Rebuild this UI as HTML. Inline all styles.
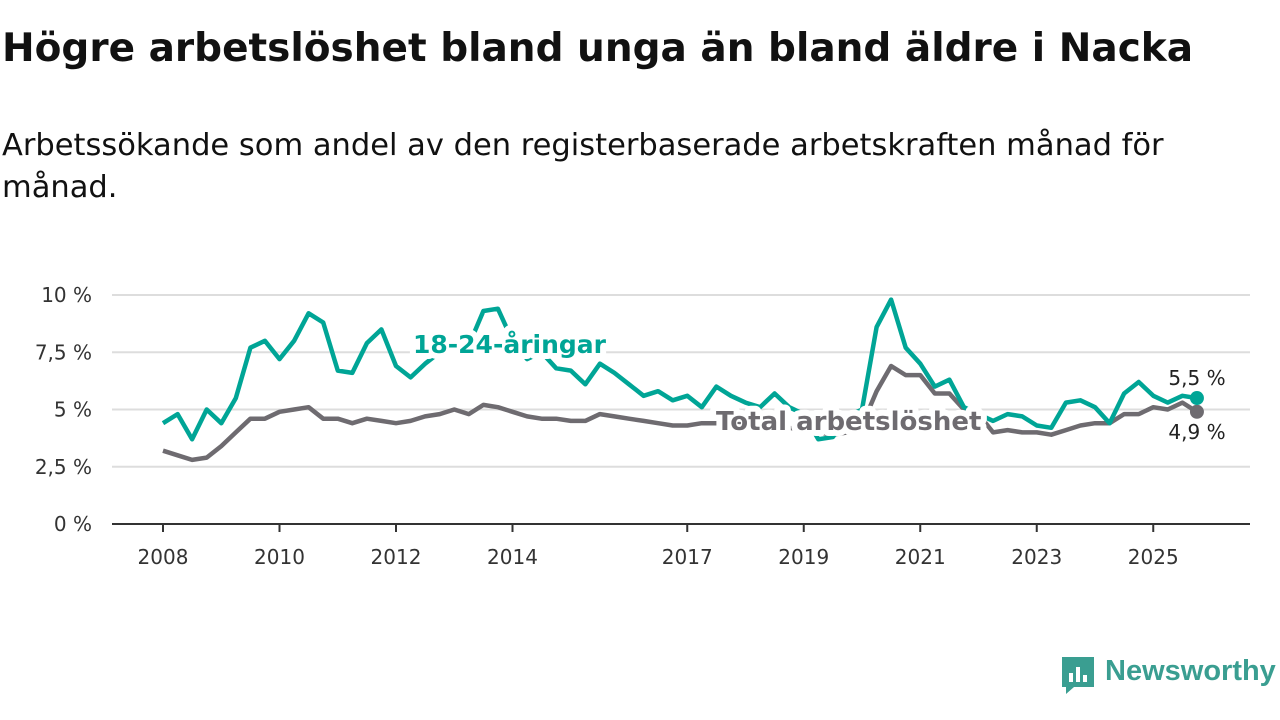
<!DOCTYPE html>
<html><head><meta charset="utf-8"><style>
body{margin:0;width:1280px;height:720px;background:#fff;overflow:hidden;font-family:"DejaVu Sans","Liberation Sans",sans-serif;color:#111}
h1{position:absolute;left:2px;top:26px;margin:0;font-size:39px;font-weight:bold;white-space:nowrap}
p{position:absolute;left:2px;top:125px;margin:0;font-size:30.5px;line-height:42px;width:1190px}
svg{position:absolute;left:0;top:0}
</style></head><body>
<h1>Högre arbetslöshet bland unga än bland äldre i Nacka</h1>
<p>Arbetssökande som andel av den registerbaserade arbetskraften månad för månad.</p>
<svg id="c" width="1280" height="720"></svg>
<div style="position:absolute;left:1060px;top:655px;width:220px;height:42px">
<svg width="36" height="40" style="position:absolute;left:0;top:0"><path d="M2 2h32v30H14l-8 7v-7H2z" fill="#3a9e91"/><rect x="9" y="18" width="4" height="9" fill="#fff"/><rect x="16" y="12" width="4" height="15" fill="#fff"/><rect x="23" y="20" width="4" height="7" fill="#fff"/></svg>
<span style="position:absolute;left:45px;top:0px;font-size:29px;color:#3a9e91;font-weight:bold;font-family:'Liberation Sans',sans-serif">Newsworthy</span>
</div>
<script>
const youth=[4.4,4.8,3.7,5.0, 4.4,5.5,7.7,8.0, 7.2,8.0,9.2,8.8, 6.7,6.6,7.9,8.5, 6.9,6.4,7.0,7.5, 8.0,7.8,9.3,9.4, 8.0,7.2,7.5,6.8, 6.7,6.1,7.0,6.6, 6.1,5.6,5.8,5.4, 5.6,5.1,6.0,5.6, 5.3,5.1,5.7,5.1, 4.8,3.7,3.8,4.7, 5.0,8.6,9.8,7.7, 7.0,6.0,6.3,5.1, 4.8,4.5,4.8,4.7, 4.3,4.2,5.3,5.4, 5.1,4.4,5.7,6.2, 5.6,5.3,5.6,5.5];
const total=[3.2,3.0,2.8,2.9, 3.4,4.0,4.6,4.6, 4.9,5.0,5.1,4.6, 4.6,4.4,4.6,4.5, 4.4,4.5,4.7,4.8, 5.0,4.8,5.2,5.1, 4.9,4.7,4.6,4.6, 4.5,4.5,4.8,4.7, 4.6,4.5,4.4,4.3, 4.3,4.4,4.4,4.5, 4.4,4.3,4.3,4.2, 4.1,4.0,3.9,4.0, 4.3,5.8,6.9,6.5, 6.5,5.7,5.7,5.0, 4.8,4.0,4.1,4.0, 4.0,3.9,4.1,4.3, 4.4,4.4,4.8,4.8, 5.1,5.0,5.3,4.9];
const startYear=2008;
const yTicks=[0,2.5,5,7.5,10];
const yTickLabels=["0 %","2,5 %","5 %","7,5 %","10 %"];
const xTicks=[2008,2010,2012,2014,2017,2019,2021,2023,2025];
const NS='http://www.w3.org/2000/svg';
const svg=document.getElementById('c');
const X=t=>163+(t-2008)*58.25;
const Y=v=>524-v*22.9;
function mk(tag,at,parent){const e=document.createElementNS(NS,tag);for(const k in at)e.setAttribute(k,at[k]);(parent||svg).appendChild(e);return e;}
yTicks.forEach((v,i)=>{
  const g=mk('line',{x1:112,x2:1250,y1:Y(v),y2:Y(v),stroke:v===0?'#333':'#ddd','stroke-width':2});
  
  
  const t=mk('text',{x:92,y:Y(v)+7,'text-anchor':'end','font-size':20,fill:'#333'});
  t.textContent=yTickLabels[i];
  
  
});
xTicks.forEach(yr=>{
  const l=mk('line',{x1:X(yr),x2:X(yr),y1:524,y2:532,stroke:'#333','stroke-width':2});
  
  
  const t=mk('text',{x:X(yr),y:564,'text-anchor':'middle','font-size':20,fill:'#333'});
  t.textContent=yr;
  
  
});
function line(data,color,name){
  const d=data.map((v,i)=>(i?'L':'M')+X(startYear+i*0.25).toFixed(1)+' '+Y(v).toFixed(1)).join(' ');
  const p=mk('path',{d:d,fill:'none',stroke:color,'stroke-width':4.5,'stroke-linejoin':'round'});
  
  
  const n=data.length-1;
  const c=mk('circle',{cx:X(startYear+n*0.25),cy:Y(data[n]),r:7,fill:color});
  
  
}
line(total,'#6e6b70','total-line');
line(youth,'#00a596','youth-line');
function label(x,y,txt,color,size,weight,name,anchor,sw){
  const t=mk('text',{x:x,y:y,'font-size':size,'font-weight':weight,fill:color,stroke:'#fff','stroke-width':sw||6,'paint-order':'stroke','stroke-linejoin':'round','text-anchor':anchor||'start'});
  t.textContent=txt;
  
  
}
label(413,353,'18-24-åringar','#00a596',25,'bold','youth-series-label','start',12);
label(716,430,'Total arbetslöshet','#6e6b70',26,'bold','total-series-label','start',12);
const n=youth.length-1;
label(1197,Y(youth[n])-13,String(youth[n]).replace('.',',')+' %','#222',20,'normal','youth-end-value','middle');
label(1197,Y(total[n])+27,String(total[n]).replace('.',',')+' %','#222',20,'normal','total-end-value','middle');
</script>
</body></html>
